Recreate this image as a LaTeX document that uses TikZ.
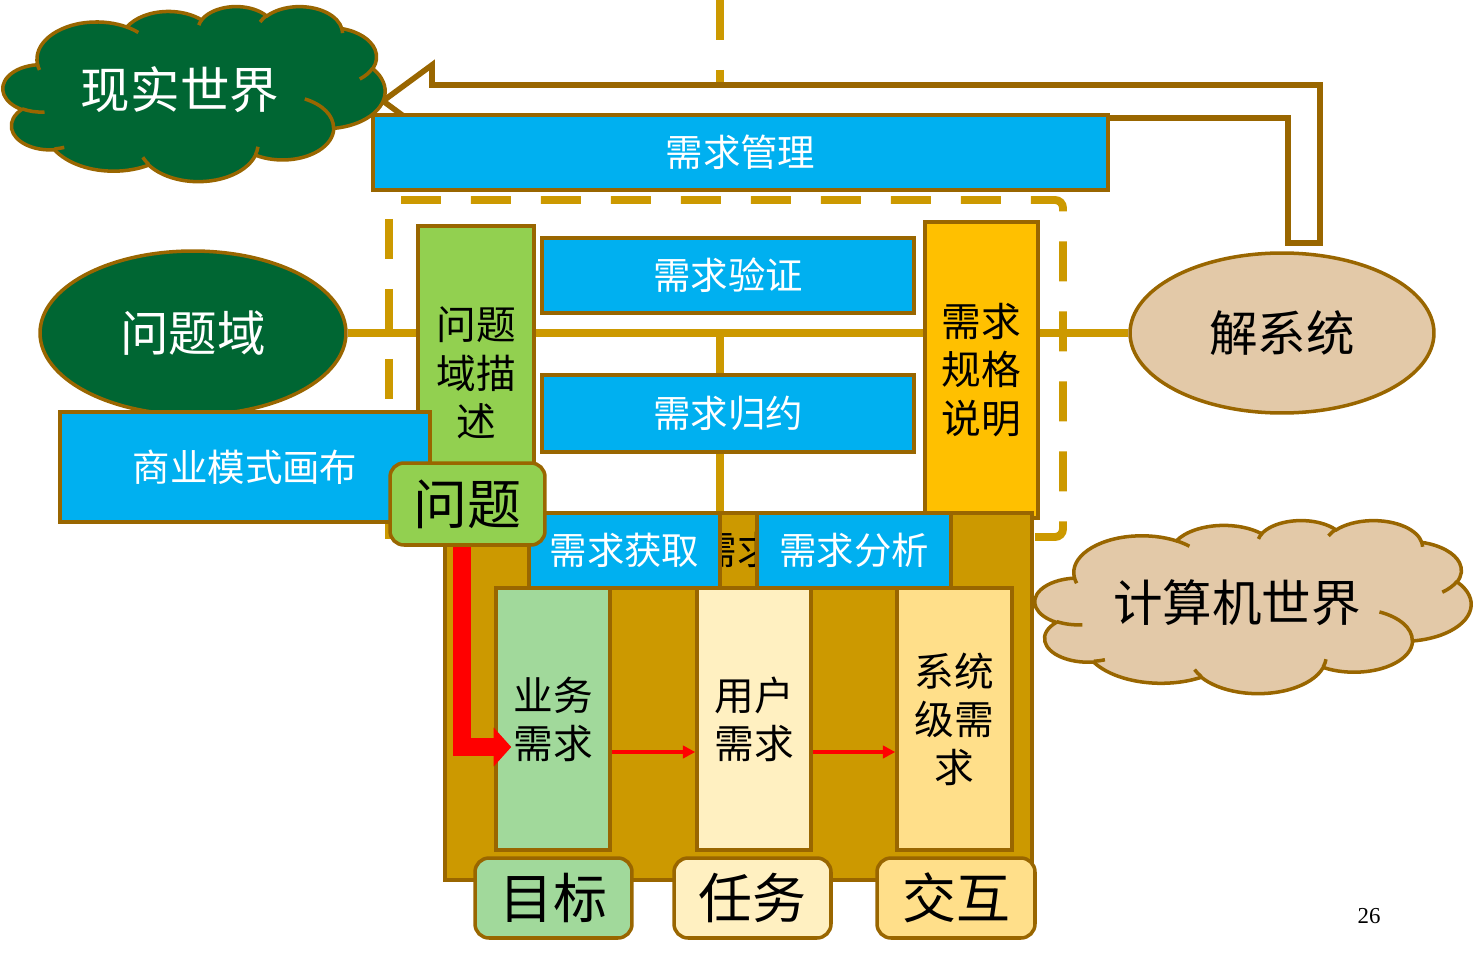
\documentclass[tikz,border=0pt]{standalone}
\usepackage{fontspec}
\newfontfamily\cjk{Noto Sans CJK SC}
\newfontfamily\numfont{Liberation Serif}
\usetikzlibrary{shapes.geometric,arrows.meta,calc}
\definecolor{goldc}{HTML}{CC9900}
\definecolor{brownc}{HTML}{996600}
\definecolor{bluec}{HTML}{00B0F0}
\definecolor{dgreen}{HTML}{006633}
\definecolor{lgreen}{HTML}{92D050}
\definecolor{orangec}{HTML}{FFC000}
\definecolor{tanc}{HTML}{E3C9A8}
\definecolor{colgreen}{HTML}{A1D99B}
\definecolor{colcream}{HTML}{FFF0C1}
\definecolor{colyellow}{HTML}{FFDF8A}
\newcommand\fsz[2]{\fontsize{#1}{#2}\selectfont}
\pgfdeclarelayer{front}
\pgfsetlayers{main,front}
% PowerPoint-like cloud in a 432 x 432 box
\newcommand\pptcloud[1]{%
  \draw[#1] (39.00,143.70)
    arc[start angle=172.26,delta angle=128.11,x radius=67.53,y radius=91.90]
    arc[start angle=-152.03,delta angle=106.59,x radius=53.33,y radius=72.67]
    arc[start angle=-153.49,delta angle=116.16,x radius=43.65,y radius=59.45]
    arc[start angle=-139.70,delta angle=129.49,x radius=48.57,y radius=65.95]
    arc[start angle=-74.77,delta angle=97.98,x radius=53.33,y radius=72.73]
    arc[start angle=-37.52,delta angle=119.38,x radius=67.75,y radius=92.20]
    arc[start angle=0.46,delta angle=121.51,x radius=57.85,y radius=78.67]
    arc[start angle=16.84,delta angle=129.38,x radius=67.52,y radius=92.15]
    arc[start angle=58.99,delta angle=91.19,x radius=77.20,y radius=105.43]
    arc[start angle=83.31,delta angle=139.79,x radius=43.60,y radius=59.18]
    arc[start angle=120.35,delta angle=143.76,x radius=43.45,y radius=59.45]
    -- cycle;
  \draw[#1,fill=none]
    (46.93,261.77) arc[start angle=85.55,delta angle=34.80,x radius=43.45,y radius=59.45]
    (69.28,348.99) arc[start angle=68.23,delta angle=15.07,x radius=43.60,y radius=59.18]
    (164.78,390.90) arc[start angle=146.22,delta angle=12.25,x radius=67.52,y radius=92.15]
    (288.27,347.51) arc[start angle=4.74,delta angle=12.10,x radius=67.52,y radius=92.15]
    (341.29,229.54) arc[start angle=-64.03,delta angle=64.49,x radius=57.85,y radius=78.67]
    (417.98,153.54) arc[start angle=23.21,delta angle=26.43,x radius=53.33,y radius=72.73]
    (383.24,54.26) arc[start angle=-10.21,delta angle=11.03,x radius=48.57,y radius=65.95]
    (290.78,39.52) arc[start angle=-156.29,delta angle=16.59,x radius=48.57,y radius=65.95]
    (221.41,47.20) arc[start angle=-167.72,delta angle=14.23,x radius=43.65,y radius=59.45]
    (140.00,51.92) arc[start angle=-59.64,delta angle=13.93,x radius=67.53,y radius=91.90]
    (41.27,157.89) arc[start angle=163.19,delta angle=9.07,x radius=67.53,y radius=91.90];
}
\begin{document}
\begin{tikzpicture}[x=0.02cm,y=-0.02cm,
  outl/.style={draw=brownc,line width=2pt,inner sep=0pt,align=center},
  bluebox/.style={outl,rectangle,fill=bluec,text=white,font=\cjk\fsz{21.3pt}{26pt}},
  tallbox/.style={outl,rectangle,text=black,font=\cjk\fsz{22.6pt}{27.6pt}},
  colbox/.style={outl,rectangle,text=black,minimum width=2.28cm,minimum height=5.24cm,font=\cjk\fsz{22.6pt}{27.3pt}},
  tagbox/.style={outl,rectangle,rounded corners=0.28cm,text=black,minimum width=3.14cm,minimum height=1.6cm,font=\cjk\fsz{30.7pt}{34pt}},
  ovalnode/.style={outl,ellipse,font=\cjk\fsz{27.6pt}{32pt}},
  cloudline/.style={draw=brownc,line width=2pt},
  cloudtext/.style={font=\cjk\fsz{28.2pt}{32pt},inner sep=0pt},
  goldline/.style={draw=goldc,line width=4pt},
  golddash/.style={draw=goldc,line width=4.5pt,dash pattern=on 0.8cm off 0.6cm,rounded corners=0.16cm},
  thinred/.style={draw=red,line width=2.2pt,-{Triangle[length=7pt,width=7pt]}},
  bigred/.style={draw=red,line width=9.7pt,line join=miter,-{Triangle[length=10pt,width=21.6pt]}}
]
\useasboundingbox (0,0) rectangle (1474,966);

% top dashed vertical
\coordinate (vtop) at (720,0);
\coordinate (vtopend) at (720,112);
\draw[draw=goldc,line width=4pt,dash pattern=on 0.8cm off 0.6cm] (vtop) -- (vtopend);

% hollow bent arrow
\draw[draw=brownc,line width=3.2pt,fill=white,line join=miter]
  (1320,243) -- (1320,85) -- (432,85) -- (432,65) -- (383,101) -- (432,137)
  -- (432,118) -- (1288,118) -- (1288,243) -- cycle;

% cloud real world
\begin{scope}[shift={(3,6)},xscale=0.8843,yscale=0.4051]
  \pptcloud{cloudline,fill=dgreen}
\end{scope}
\node[cloudtext,text=white] (xianshitext) at (180,90) {现实世界};

% requirement management
\node[bluebox,minimum width=14.7cm,minimum height=1.5cm] (guanli) at (740.5,152.5) {需求管理};

% dashed frame
\coordinate (dtl) at (389,200);
\coordinate (dtr) at (1063,200);
\coordinate (dbr) at (1063,537);
\coordinate (dbl) at (389,537);
\coordinate (dlend) at (389,545);
\draw[golddash,dash phase=1.16cm] (dtl) -- (dtr) -- (dbr) -- (dbl);
\draw[golddash,dash phase=1.02cm] (dtl) -- (dlend);

% ellipses
\node[ovalnode,fill=dgreen,text=white,minimum width=6.12cm,minimum height=3.28cm] (wentiyu) at (193,333) {问题域};
\node[ovalnode,fill=tanc,text=black,minimum width=6.08cm,minimum height=3.2cm] (jiexi) at (1282,333) {解系统};

% gold connectors
\draw[goldline] (wentiyu.east) -- (jiexi.west);
\coordinate (vj) at (720,333);
\coordinate (vb) at (720,513);
\draw[goldline] (vj) -- (vb);

% middle boxes
\node[tallbox,fill=lgreen,minimum width=2.32cm,minimum height=5.88cm] (miaoshu) at (476,373) {问题\\域描\\述};
\node[bluebox,minimum width=7.44cm,minimum height=1.5cm] (yanzheng) at (728,275.5) {需求验证};
\node[bluebox,minimum width=7.44cm,minimum height=1.54cm] (guiyue) at (728,413.5) {需求归约};
\node[tallbox,fill=orangec,minimum width=2.26cm,minimum height=5.92cm] (guige) at (981.5,370) {需求\\规格\\说明};

% business model canvas
\node[bluebox,minimum width=7.4cm,minimum height=2.2cm] (shangye) at (245,467) {商业模式画布};

% big development box
\node[outl,rectangle,fill=goldc,minimum width=11.74cm,minimum height=7.34cm] (bigbox) at (738.5,696.5) {};
\node[anchor=west,inner sep=0pt,font=\cjk\fsz{22pt}{26pt}] (hidden) at (698,550) {需求};
\node[bluebox,minimum width=3.82cm,minimum height=1.5cm] (huoqu) at (624.5,550.5) {需求获取};
\node[bluebox,minimum width=3.88cm,minimum height=1.5cm] (fenxi) at (854,550.5) {需求分析};

\node[colbox,fill=colgreen] (yewu) at (553,719) {业务\\需求};
\node[colbox,fill=colcream] (yonghu) at (754,719) {用户\\需求};
\node[colbox,fill=colyellow,minimum width=2.3cm] (xitong) at (954.5,719) {系统\\级需\\求};

\node[tagbox,fill=colgreen] (mubiao) at (553.5,898) {目标};
\node[tagbox,fill=colcream] (renwu) at (752.5,898) {任务};
\node[tagbox,fill=colyellow,minimum width=3.16cm] (jiaohu) at (956,898) {交互};

% arrows
\coordinate (ay) at (0,752);
\draw[thinred] (yewu.east |- ay) -- (yonghu.west |- ay);
\draw[thinred] (yonghu.east |- ay) -- (xitong.west |- ay);
\begin{pgfonlayer}{front}
\node[tagbox,fill=lgreen,minimum width=3.1cm,minimum height=1.64cm] (wenti) at (467.5,504) {问题};
\end{pgfonlayer}
\draw[bigred] ($(wenti.south)+(-5.5,-10)$) |- ($(yewu.west)+(17,28)$);

% computer world cloud
\begin{scope}[shift={(1035,520)},xscale=1.0093,yscale=0.4005]
  \pptcloud{cloudline,fill=tanc}
\end{scope}
\node[cloudtext,text=black] (jisuanjitext) at (1237,603) {计算机世界};

% page number
\node[font=\numfont\fsz{13pt}{15pt},inner sep=0pt] (pagenum) at (1369,916) {26};
\end{tikzpicture}
\end{document}
